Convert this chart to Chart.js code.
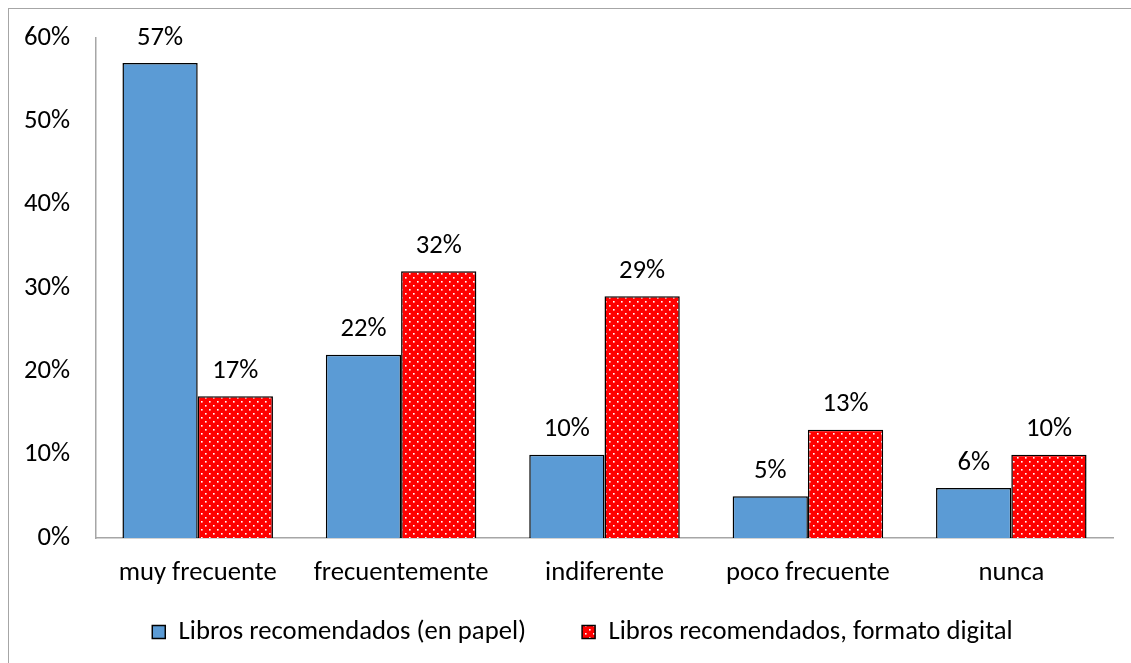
<!DOCTYPE html>
<html>
<head>
<meta charset="utf-8">
<script src="https://cdn.jsdelivr.net/npm/chart.js@4"></script>
<style>
    body { margin: 0; background: #fff; }
    .wrap { position: relative; width: 1131px; height: 663px; overflow: hidden; }
    .frame { position: absolute; left: 8px; top: 8px; width: 1200px; height: 700px; border: 1px solid #a6a6a6; }
    canvas { position: absolute; left: 0; top: 0; }
</style>
</head>
<body>
<div class="wrap">
    <div class="frame"></div>
    <canvas id="myChart" width="1131" height="663"></canvas>
</div>
<script>
const categories = ['muy frecuente', 'frecuentemente', 'indiferente', 'poco frecuente', 'nunca']
const papel = [57, 22, 10, 5, 6]
const digital = [17, 32, 29, 13, 10]
const yTicks = [0, 10, 20, 30, 40, 50, 60]
const seriesNames = ['Libros recomendados (en papel)', 'Libros recomendados, formato digital']

const fontFamily = "Carlito, 'Open Sans', sans-serif"
const fontSize = 26.67
const legendGap = 56

// red with white dots
function dotPattern() {
    const c = document.createElement('canvas')
    c.width = 8
    c.height = 8
    const ctx = c.getContext('2d')
    ctx.fillStyle = '#ff0000'
    ctx.fillRect(0, 0, 8, 8)
    ctx.fillStyle = '#ffffff'
    ctx.fillRect(1, 1, 1.6, 1.6)
    ctx.fillRect(5, 5, 1.6, 1.6)
    return ctx.createPattern(c, 'repeat')
}

const valueLabels = {
    id: 'valueLabels',
    afterDatasetsDraw(chart) {
        const ctx = chart.ctx
        ctx.save()
        ctx.font = fontSize + 'px ' + fontFamily
        ctx.fillStyle = '#000'
        ctx.textAlign = 'center'
        ctx.textBaseline = 'middle'
        chart.data.datasets.forEach((ds, i) => {
            chart.getDatasetMeta(i).data.forEach((bar, j) => {
                ctx.fillText(ds.data[j] + '%', bar.x, bar.y - 25)
            })
        })
        ctx.restore()
    }
}

// move the legend row to where the picture has it
const legendPlace = {
    id: 'legendPlace',
    afterLayout(chart) {
        const lg = chart.legend
        lg.top = 632 - legendGap - fontSize / 2
        lg.left += 26
        lg.right += 26
    }
}

const chartData = {
    labels: categories,
    datasets: [{
        label: seriesNames[0],
        backgroundColor: '#5b9bd5',
        borderColor: '#000',
        borderWidth: 1.5,
        data: papel,
    }, {
        label: seriesNames[1],
        backgroundColor: dotPattern(),
        borderColor: '#000',
        borderWidth: 1.5,
        data: digital,
    }]
}

const config = {
    type: 'bar',
    data: chartData,
    plugins: [valueLabels, legendPlace],
    options: {
        responsive: false,
        animation: false,
        categoryPercentage: 0.74,
        barPercentage: 1,
        layout: { padding: { top: 38, right: 18, left: 0, bottom: 0 } },
        plugins: {
            tooltip: { enabled: false },
            legend: {
                position: 'bottom',
                maxHeight: 60,
                labels: {
                    color: '#000',
                    font: { family: fontFamily, size: fontSize },
                    boxWidth: 13,
                    boxHeight: 13,
                    padding: legendGap,
                },
            },
        },
        scales: {
            x: {
                grid: { display: false, drawTicks: false },
                border: { color: '#a6a6a6', width: 1.5 },
                ticks: { color: '#000', font: { family: fontFamily, size: fontSize }, padding: 19 },
                afterFit: scale => { scale.height = 663 - 538 - scale.chart.legend.height },
            },
            y: {
                min: 0,
                max: 60,
                grid: { display: false, drawTicks: false },
                border: { color: '#a6a6a6', width: 1.5 },
                afterBuildTicks: scale => { scale.ticks = yTicks.map(v => ({ value: v })) },
                ticks: {
                    color: '#000',
                    font: { family: fontFamily, size: fontSize },
                    padding: 26,
                    callback: v => v + '%',
                },
                afterFit: scale => {
                    scale.width = 96
                    scale.paddingTop = 0
                },
            },
        },
    },
}

const myChart = new Chart(document.getElementById('myChart'), config)
</script>
</body>
</html>
